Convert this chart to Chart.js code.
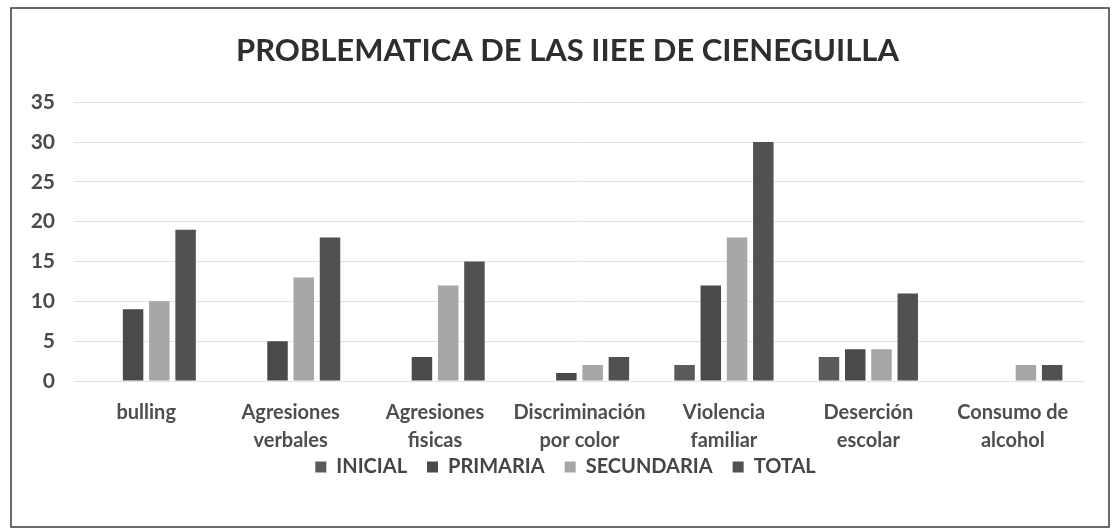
<!DOCTYPE html>
<html>
<head>
<meta charset="utf-8">
<script src="https://cdn.jsdelivr.net/npm/chart.js@4/dist/chart.umd.min.js"></script>
<style>
  html, body { margin: 0; padding: 0; background: #ffffff; }
  #wrap { width: 1115px; height: 532px; position: relative; }
</style>
</head>
<body>
<div id="wrap"><canvas id="c" width="1115" height="532"></canvas></div>
<script>
const chartTitle = "PROBLEMATICA DE LAS IIEE DE CIENEGUILLA";
const categories = [
  "bulling",
  ["Agresiones", "verbales"],
  ["Agresiones", "fisicas"],
  ["Discriminación", "por color"],
  ["Violencia", "familiar"],
  ["Deserción", "escolar"],
  ["Consumo de", "alcohol"]
];
const seriesNames = ["INICIAL", "PRIMARIA", "SECUNDARIA", "TOTAL"];
const inicial    = [0, 0, 0, 0, 2, 3, 0];
const primaria   = [9, 5, 3, 1, 12, 4, 0];
const secundaria = [10, 13, 12, 2, 18, 4, 2];
const total      = [19, 18, 15, 3, 30, 11, 2];
const yMin = 0, yMax = 35, yStep = 5;

const colors = ["#5a5a5a", "#4a4a4a", "#a6a6a6", "#515151"];
const values = [inicial, primaria, secundaria, total];

const LEGEND_CENTER_Y = 467;
const LEGEND_SHIFT_X = 13;
const TITLE_SHIFT_X = 15;

const framePlugin = {
  id: "frame",
  afterLayout(chart) {
    const lg = chart.legend;
    if (lg) {
      const pad = lg.options.labels.padding;
      const fs = lg.options.labels.font.size;
      const newTop = LEGEND_CENTER_Y - pad - fs / 2;
      const h = lg.bottom - lg.top;
      lg.top = newTop;
      lg.bottom = newTop + h;
      lg.left += LEGEND_SHIFT_X;
      lg.right += LEGEND_SHIFT_X;
    }
    const tb = chart.titleBlock;
    if (tb) {
      tb.left += TITLE_SHIFT_X;
      tb.right += TITLE_SHIFT_X;
    }
  },
  afterDraw(chart) {
    const ctx = chart.ctx;
    ctx.save();
    ctx.strokeStyle = "#3a3a3a";
    ctx.lineWidth = 1.5;
    ctx.strokeRect(11, 8, 1098, 519);
    ctx.restore();
  }
};

const FONT = "Lato, 'Open Sans', sans-serif";

new Chart(document.getElementById("c"), {
  type: "bar",
  data: {
    labels: categories,
    datasets: seriesNames.map((name, i) => ({
      label: name,
      data: values[i],
      backgroundColor: colors[i],
      borderWidth: 0,
      categoryPercentage: 0.727,
      barPercentage: 0.78
    }))
  },
  options: {
    responsive: false,
    animation: false,
    devicePixelRatio: 1,
    layout: { padding: { left: 20, right: 30, top: 20, bottom: 27 } },
    plugins: {
      title: {
        display: true,
        text: chartTitle,
        color: "#2e2e2e",
        font: { family: FONT, size: 31, weight: "bold" },
        padding: { top: 12, bottom: 33 }
      },
      legend: {
        position: "bottom",
        labels: {
          color: "#454545",
          font: { family: FONT, size: 20, weight: "bold" },
          boxWidth: 11,
          boxHeight: 11,
          padding: 20
        }
      },
      tooltip: { enabled: false }
    },
    scales: {
      x: {
        grid: { display: false, drawTicks: false },
        border: { display: false },
        ticks: {
          color: "#4e4e4e",
          font: { family: FONT, size: 20, weight: "bold", lineHeight: 1.38 },
          padding: 18,
          maxRotation: 0,
          autoSkip: false
        },
        afterFit(s) { s.height = 74; }
      },
      y: {
        min: yMin,
        max: yMax,
        grid: { color: "#e2e2e2", lineWidth: 1, drawTicks: false },
        border: { display: false },
        ticks: {
          stepSize: yStep,
          color: "#4a4a4a",
          font: { family: FONT, size: 21, weight: "bold" },
          padding: 19
        },
        afterFit(s) { s.width = 54; }
      }
    }
  },
  plugins: [framePlugin]
});
</script>
</body>
</html>
